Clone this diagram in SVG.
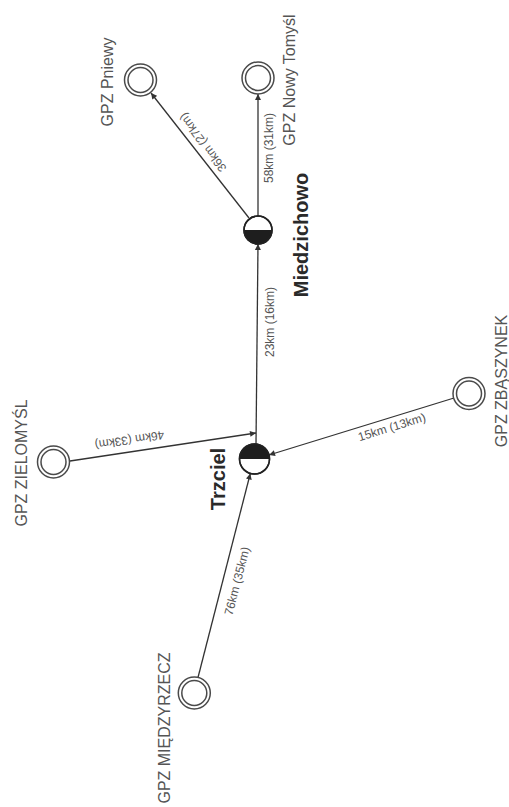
<svg xmlns="http://www.w3.org/2000/svg" width="509" height="807" viewBox="0 0 509 807">
<style>
.bg{fill:#ffffff}
.gpz circle{fill:none;stroke:#4a4a4a;stroke-width:1.5}
.hub .ring{fill:#ffffff;stroke:#222;stroke-width:1.5}
.hub .half{fill:#1e1e1e}
.lbl{font-family:"Liberation Sans",Arial,sans-serif;font-size:16px;fill:#555;text-anchor:middle}
.hlbl{font-family:"Liberation Sans",Arial,sans-serif;font-size:20px;font-weight:bold;fill:#2a2a2a;text-anchor:middle}
.edge{stroke:#333;stroke-width:1.3;fill:none;marker-end:url(#arr)}
.elbl{font-family:"Liberation Sans",Arial,sans-serif;font-size:12px;fill:#555;text-anchor:middle}
</style>
<defs>
<marker id="arr" viewBox="0 0 10 10" refX="10" refY="5" markerWidth="7" markerHeight="6" markerUnits="userSpaceOnUse" orient="auto">
<path d="M0,0 L10,5 L0,10 Z" fill="#333"/>
</marker>
</defs>
<rect class="bg" x="0" y="0" width="509" height="807"/>

<g id="connectors">
<line class="edge" x1="256" y1="444" x2="258" y2="244"/>
<text class="elbl" transform="translate(274,322) rotate(-90)">23km (16km)</text>
<line class="edge" x1="258" y1="216" x2="258" y2="94"/>
<text class="elbl" transform="translate(273,148) rotate(-90)">58km (31km)</text>
<line class="edge" x1="249" y1="218" x2="151" y2="93"/>
<text class="elbl" transform="translate(206,140) rotate(-126.8)">36km (27km)</text>
<line class="edge" x1="70" y1="461" x2="256" y2="433"/>
<text class="elbl" transform="translate(129,436) rotate(171.5)">46km (33km)</text>
<line class="edge" x1="454" y1="398" x2="269" y2="455"/>
<text class="elbl" transform="translate(393,431) rotate(-17.1)">15km (13km)</text>
<line class="edge" x1="198" y1="677.5" x2="250.3" y2="473.5"/>
<text class="elbl" transform="translate(241,582) rotate(-75.6)">76km (35km)</text>
</g>

<g id="gpz-pniewy" class="gpz">
<circle cx="140.5" cy="80" r="16"/><circle cx="140.5" cy="80" r="12.5"/>
<text class="lbl" transform="translate(113,82) rotate(-90)">GPZ Pniewy</text>
</g>
<g id="gpz-nowy-tomysl" class="gpz">
<circle cx="258" cy="78" r="16"/><circle cx="258" cy="78" r="12.5"/>
<text class="lbl" transform="translate(295,80) rotate(-90)">GPZ Nowy Tomyśl</text>
</g>
<g id="gpz-zielomysl" class="gpz">
<circle cx="53.5" cy="462" r="16"/><circle cx="53.5" cy="462" r="12.5"/>
<text class="lbl" transform="translate(27,463) rotate(-90)">GPZ ZIELOMYŚL</text>
</g>
<g id="gpz-zbaszynek" class="gpz">
<circle cx="469" cy="393.5" r="16"/><circle cx="469" cy="393.5" r="12.5"/>
<text class="lbl" transform="translate(507,381) rotate(-90)">GPZ ZBĄSZYNEK</text>
</g>
<g id="gpz-miedzyrzecz" class="gpz">
<circle cx="194.3" cy="693" r="16"/><circle cx="194.3" cy="693" r="12.5"/>
<text class="lbl" transform="translate(170,728) rotate(-90)">GPZ MIĘDZYRZECZ</text>
</g>

<g id="miedzichowo" class="hub">
<circle class="ring" cx="258" cy="230" r="14"/>
<path class="half" d="M244,230 A14,14 0 0 0 272,230 Z"/>
<circle cx="258" cy="230" r="14" fill="none" stroke="#222" stroke-width="1.5"/>
<text class="hlbl" transform="translate(308,235) rotate(-90)">Miedzichowo</text>
</g>
<g id="trzciel" class="hub">
<circle class="ring" cx="254.5" cy="459" r="15"/>
<path class="half" d="M239.5,459 A15,15 0 0 1 269.5,459 Z"/>
<circle cx="254.5" cy="459" r="15" fill="none" stroke="#222" stroke-width="1.5"/>
<text class="hlbl" transform="translate(225,479) rotate(-90)">Trzciel</text>
</g>
</svg>
